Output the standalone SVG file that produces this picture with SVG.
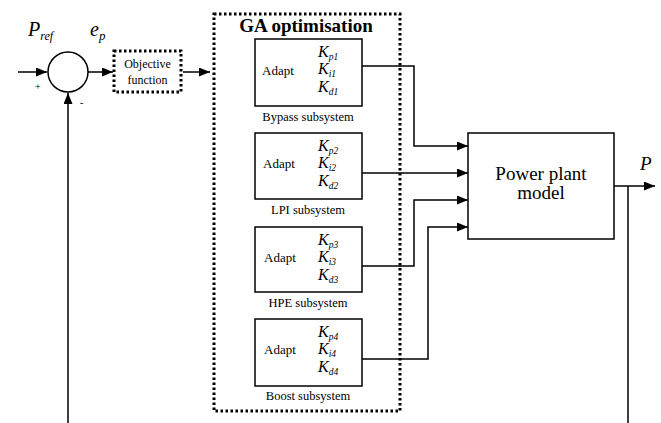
<svg xmlns="http://www.w3.org/2000/svg" width="661" height="423" viewBox="0 0 661 423">
<defs>
<marker id="ah" markerWidth="11" markerHeight="9" refX="11" refY="4.5" orient="auto" markerUnits="userSpaceOnUse">
<path d="M0,0 L11,4.5 L0,9 Z" fill="#000"/>
</marker>
<style>
.ln{fill:none;stroke:#000;stroke-width:1.5}
.bx{fill:#fff;stroke:#000;stroke-width:1.5}
.dot{fill:none;stroke:#000;stroke-width:3;stroke-dasharray:2.5 2.5}
text{font-family:"Liberation Serif","Times New Roman",serif;fill:#000}
.k{font-style:italic;font-size:16px}
.sub{font-size:9.5px}
.ad{font-size:13px}
.lb{font-size:12.5px;text-anchor:middle}
</style>
</defs>
<rect width="661" height="423" fill="#fff"/>
<g id="connectors">
<line class="ln" x1="18" y1="72" x2="47" y2="72" marker-end="url(#ah)"/>
<line class="ln" x1="88" y1="72" x2="113" y2="72" marker-end="url(#ah)"/>
<line class="ln" x1="183" y1="72" x2="210" y2="72" marker-end="url(#ah)"/>
<line class="ln" x1="68" y1="423" x2="68" y2="93" marker-end="url(#ah)"/>
<polyline class="ln" points="362,66 414,66 414,146 468,146" marker-end="url(#ah)"/>
<polyline class="ln" points="362,173 468,173" marker-end="url(#ah)"/>
<polyline class="ln" points="362,266 414,266 414,200 468,200" marker-end="url(#ah)"/>
<polyline class="ln" points="362,359 428,359 428,227 468,227" marker-end="url(#ah)"/>
<line class="ln" x1="614" y1="186" x2="655" y2="186" marker-end="url(#ah)"/>
<line class="ln" x1="628" y1="186" x2="628" y2="423"/>
</g>
<g id="sum">
<circle class="bx" cx="68" cy="72" r="20"/>
<text x="35" y="90" font-family="Liberation Serif, serif" font-size="10">+</text>
<text x="80" y="106" font-family="Liberation Serif, serif" font-size="10">-</text>
</g>
<g id="labels">
<text x="28" y="36" font-family="Liberation Serif, serif" font-style="italic" font-size="20">P<tspan dy="4" font-size="12">ref</tspan></text>
<text x="90" y="36" font-family="Liberation Serif, serif" font-style="italic" font-size="20">e<tspan dy="4" font-size="13">p</tspan></text>
<text x="640" y="170" font-family="Liberation Serif, serif" font-style="italic" font-size="19">P</text>
</g>
<g id="objective">
<rect class="dot" x="114" y="51" width="67" height="41"/>
<text x="147.5" y="68" font-family="Liberation Serif, serif" font-size="12" text-anchor="middle">Objective</text>
<text x="147.5" y="84" font-family="Liberation Serif, serif" font-size="12" text-anchor="middle">function</text>
</g>
<g id="ga">
<rect class="dot" x="214" y="14" width="186" height="397"/>
<text x="306" y="32" font-family="Liberation Serif, serif" font-size="19" font-weight="bold" text-anchor="middle">GA optimisation</text>
</g>
<g id="bypass">
<rect class="bx" x="255" y="39" width="107" height="67"/>
<text class="ad" x="262" y="75">Adapt</text>
<text class="k" x="318" y="57">K<tspan class="sub" dy="3">p1</tspan></text>
<text class="k" x="318" y="74">K<tspan class="sub" dy="3">i1</tspan></text>
<text class="k" x="318" y="92">K<tspan class="sub" dy="3">d1</tspan></text>
<text class="lb" x="308" y="121">Bypass subsystem</text>
</g>
<g id="lpi">
<rect class="bx" x="255" y="133" width="107" height="66"/>
<text class="ad" x="263" y="168">Adapt</text>
<text class="k" x="318" y="151">K<tspan class="sub" dy="3">p2</tspan></text>
<text class="k" x="318" y="168">K<tspan class="sub" dy="3">i2</tspan></text>
<text class="k" x="318" y="186">K<tspan class="sub" dy="3">d2</tspan></text>
<text class="lb" x="308" y="214">LPI subsystem</text>
</g>
<g id="hpe">
<rect class="bx" x="255" y="227" width="107" height="65"/>
<text class="ad" x="264" y="262">Adapt</text>
<text class="k" x="318" y="245">K<tspan class="sub" dy="3">p3</tspan></text>
<text class="k" x="318" y="262">K<tspan class="sub" dy="3">i3</tspan></text>
<text class="k" x="318" y="280">K<tspan class="sub" dy="3">d3</tspan></text>
<text class="lb" x="308" y="307">HPE subsystem</text>
</g>
<g id="boost">
<rect class="bx" x="255" y="319" width="107" height="67"/>
<text class="ad" x="264" y="354">Adapt</text>
<text class="k" x="318" y="337">K<tspan class="sub" dy="3">p4</tspan></text>
<text class="k" x="318" y="354">K<tspan class="sub" dy="3">i4</tspan></text>
<text class="k" x="318" y="372">K<tspan class="sub" dy="3">d4</tspan></text>
<text class="lb" x="308" y="400">Boost subsystem</text>
</g>
<g id="plant">
<rect class="bx" x="468" y="133" width="146" height="106"/>
<text x="541" y="180" font-family="Liberation Serif, serif" font-size="19" text-anchor="middle">Power plant</text>
<text x="541" y="199" font-family="Liberation Serif, serif" font-size="19" text-anchor="middle">model</text>
</g>
</svg>
